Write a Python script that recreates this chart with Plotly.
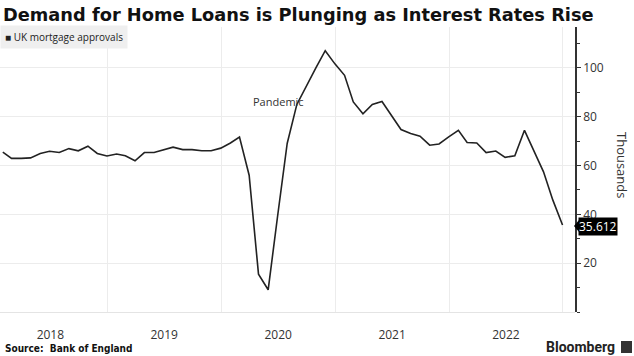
import pandas as pd
import plotly.graph_objects as go

# ---- data (thousands of mortgage approvals, month-end) ----
months = pd.date_range("2018-01-31", periods=60, freq="ME")
approvals = [
    65.5, 62.9, 62.9, 63.1, 64.9, 65.8, 65.3, 66.9, 66.0, 67.9, 64.9, 63.9,   # 2018
    64.7, 64.0, 61.9, 65.3, 65.3, 66.5, 67.5, 66.5, 66.5, 66.0, 66.0, 67.1,   # 2019
    69.2, 71.6, 56.0, 15.5, 9.1, 39.0, 69.0, 85.0, 92.5, 100.0, 107.0, 101.6, # 2020
    96.9, 86.0, 81.2, 85.0, 86.2, 80.5, 74.7, 73.1, 72.0, 68.3, 68.8, 71.7,   # 2021
    74.4, 69.4, 69.2, 65.3, 65.9, 63.3, 64.0, 74.4, 66.2, 57.4, 45.8, 35.612, # 2022
]
y_ticks = [20, 40, 60, 80, 100]
y_ticklabels = ["20", "40", "60", "80", "100"]
last_label = "35.612"

TICK_FONT = "Open Sans"
W, H = 634, 356
L, R, T, B = 0, 59, 27, 44
PW, PH = W - L - R, H - T - B


def px(x):
    return (x - L) / PW


def py(y):
    return (H - B - y) / PH


fig = go.Figure()
fig.add_trace(go.Scatter(
    x=months, y=approvals, mode="lines",
    line=dict(color="#222222", width=1.6),
    name="UK mortgage approvals", showlegend=False,
    hoverinfo="x+y",
))

fig.update_layout(
    width=W, height=H,
    margin=dict(l=L, r=R, t=T, b=B),
    paper_bgcolor="white", plot_bgcolor="white",
    showlegend=False,
    xaxis=dict(
        range=["2018-01-22", "2023-02-09"],
        tick0="2018-01-01", dtick="M12", tickformat="%Y",
        ticklabelmode="period",
        ticks="outside", ticklen=12, tickcolor="rgba(0,0,0,0)",
        showgrid=True, gridcolor="#ececec", gridwidth=1,
        showline=False, zeroline=False,
        tickfont=dict(family=TICK_FONT, size=12, color="#333333"),
    ),
    yaxis=dict(
        side="right", range=[0, 116.7],
        tickmode="array", tickvals=y_ticks, ticktext=y_ticklabels,
        ticks="outside", ticklen=4, tickcolor="#333333", tickwidth=1,
        minor=dict(dtick=10, tick0=0, ticks="outside", ticklen=3,
                   tickcolor="#333333", showgrid=False),
        showline=True, linecolor="#333333", linewidth=1.5,
        showgrid=True, gridcolor="#ececec", gridwidth=1,
        zeroline=True, zerolinecolor="#e4e4e4", zerolinewidth=1,
        tickfont=dict(family=TICK_FONT, size=12, color="#333333"),
    ),
)

# title
fig.add_annotation(
    text="<b>Demand for Home Loans is Plunging as Interest Rates Rise</b>",
    xref="paper", yref="paper", x=px(1), y=py(14),
    xanchor="left", yanchor="middle", showarrow=False,
    font=dict(family="DejaVu Sans", size=17.8, color="#111111"),
)

# legend box
fig.add_annotation(
    text="■ UK mortgage approvals",
    xref="paper", yref="paper", x=px(0), y=py(37),
    xanchor="left", yanchor="middle", showarrow=False,
    align="left", borderpad=4,
    bgcolor="#efefef",
    font=dict(family=TICK_FONT, size=10, color="#222222"),
)

# pandemic label
fig.add_annotation(
    text="Pandemic", x="2020-07-02", y=86, xref="x", yref="y",
    showarrow=False, xanchor="center", yanchor="middle",
    font=dict(family=TICK_FONT, size=11, color="#333333"),
)

# y-axis title (reads top to bottom)
fig.add_annotation(
    text="Thousands", xref="paper", yref="paper", x=px(622), y=py(165),
    textangle=90, showarrow=False, xanchor="center", yanchor="middle",
    font=dict(family=TICK_FONT, size=13, color="#333333"),
)

# last value tag
fig.add_annotation(
    text=last_label, xref="paper", yref="y", x=1, y=approvals[-1],
    xanchor="left", yanchor="middle", xshift=3, yshift=-1, showarrow=False,
    bgcolor="#000000", borderpad=0,
    font=dict(family=TICK_FONT, size=12, color="#ffffff"),
)
fig.add_shape(
    type="path", xref="paper", yref="y",
    xsizemode="pixel", ysizemode="pixel", xanchor=1, yanchor=approvals[-1],
    path="M -1,-1 L 4,5 L 4,-7 Z", fillcolor="#000000", line=dict(width=0),
)

# source
fig.add_annotation(
    text="<b>Source:  Bank of England</b>",
    xref="paper", yref="paper", x=px(3), y=py(348),
    xanchor="left", yanchor="middle", showarrow=False,
    font=dict(family="DejaVu Sans Condensed", size=10, color="#111111"),
)

# Bloomberg mark
fig.add_annotation(
    text="<b>Bloomberg</b>",
    xref="paper", yref="paper", x=px(617), y=py(347),
    xanchor="right", yanchor="middle", showarrow=False,
    font=dict(family="Roboto", size=14, color="#222222"),
)
fig.add_shape(
    type="rect", xref="paper", yref="paper",
    x0=px(621), x1=px(632), y0=py(353), y1=py(341),
    fillcolor="#333333", line=dict(width=0),
)

fig.write_html("out.html")
